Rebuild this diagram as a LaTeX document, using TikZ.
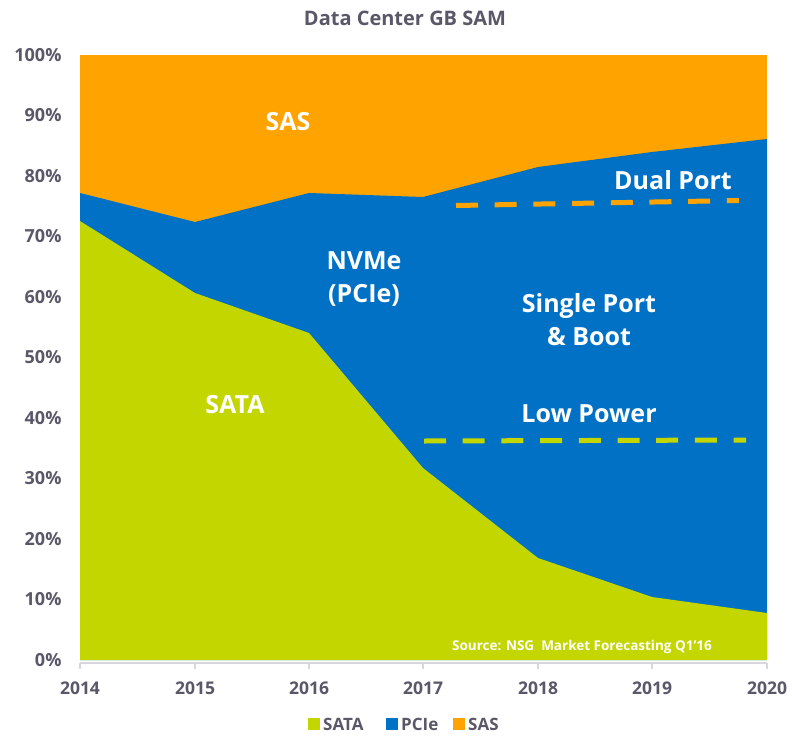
\documentclass[tikz,border=0pt]{standalone}
\usepackage{fontspec}
\setmainfont{Open Sans}
\definecolor{sasorange}{RGB}{255,163,0}
\definecolor{pciblue}{RGB}{0,113,197}
\definecolor{satagreen}{RGB}{196,214,0}
\definecolor{labelgray}{RGB}{88,88,104}
\definecolor{axisline}{RGB}{214,214,220}
\tikzset{
  ylab/.style={anchor=east, text=labelgray, font=\fontsize{18}{20}\selectfont\bfseries},
  xlab/.style={anchor=center, text=labelgray, font=\fontsize{17.5}{20}\selectfont\bfseries},
  arealab/.style={anchor=center, text=white, align=center, font=\fontsize{25}{33}\selectfont\bfseries},
  legtext/.style={anchor=west, text=labelgray, inner sep=0pt, text height=12.2pt, text depth=0pt,
    font=\fontsize{17}{19}\selectfont\bfseries},
  legbox/.style={minimum width=12pt, minimum height=12pt, inner sep=0pt},
  segline/.style={line width=5pt, dash pattern=on 22pt off 16.7pt}
}
\begin{document}
\begin{tikzpicture}[x=1pt,y=-1pt]
\useasboundingbox (0,0) rectangle (792,736);
\fill[white] (0,0) rectangle (792,736);

% stacked areas: SAS on top, then PCIe, then SATA
\fill[sasorange] (80,55) rectangle (767,660);
\fill[pciblue] (80,660) -- (80,193) -- (195,222) -- (309,193) -- (423,197)
  -- (538,167) -- (652,152) -- (767,139) -- (767,660) -- cycle;
\fill[satagreen] (80,660) -- (80,221) -- (195,293) -- (309,333) -- (423,468)
  -- (538,558) -- (652,597) -- (767,613) -- (767,660) -- cycle;

% horizontal axis with year ticks
\draw[axisline, line width=1.3pt] (80,663) -- (767,663);
\foreach \xx/\yr in {80/2014,195/2015,309/2016,423/2017,538/2018,652/2019,767/2020}{
  \draw[axisline, line width=1.3pt] (\xx,663) -- (\xx,669);
  \node[xlab] (yr\yr) at (\xx,688) {\yr};
}

% vertical axis labels
\foreach \k in {0,...,10}{
  \pgfmathsetmacro{\yy}{660-\k*60.5}
  \node[ylab] (pct\k) at (65,\yy) {\the\numexpr\k*10\relax\%};
}

% title
\node[text=labelgray, font=\fontsize{20}{22}\selectfont\bfseries] (title) at (405,18) {Data Center GB SAM};

% segment markers
\coordinate (dpA) at (456,205.5);
\coordinate (dpB) at (739,200.5);
\draw[sasorange, segline] (dpA) -- (dpB);
\coordinate (lpA) at (424,441);
\coordinate (lpB) at (746,440);
\draw[satagreen, segline] (lpA) -- (lpB);

% area labels
\node[arealab] (sas) at (288,122) {SAS};
\node[arealab] (nvme) at (364,279) {NVMe\\(PCIe)};
\node[arealab] (sata) at (235,405) {SATA};
\node[arealab] (single) at (589,320) {Single Port\\\& Boot};
\node[arealab] (dual) at (673,180) {Dual Port};
\node[arealab] (lowpow) at (589,414) {Low Power};

\node[text=white, font=\fontsize{13.5}{15}\selectfont\bfseries] (source) at (582,647) {Source: NSG\ \ Market Forecasting Q1'16};

% legend
\node[legbox, fill=satagreen] (lgSata) at (314,724) {};
\node[legtext] (ltSata) at (323,724) {SATA};
\node[legbox, fill=pciblue] (lgPci) at (392,724) {};
\node[legtext] (ltPci) at (401,724) {PCIe};
\node[legbox, fill=sasorange] (lgSas) at (459,724) {};
\node[legtext] (ltSas) at (468,724) {SAS};
\end{tikzpicture}
\end{document}
